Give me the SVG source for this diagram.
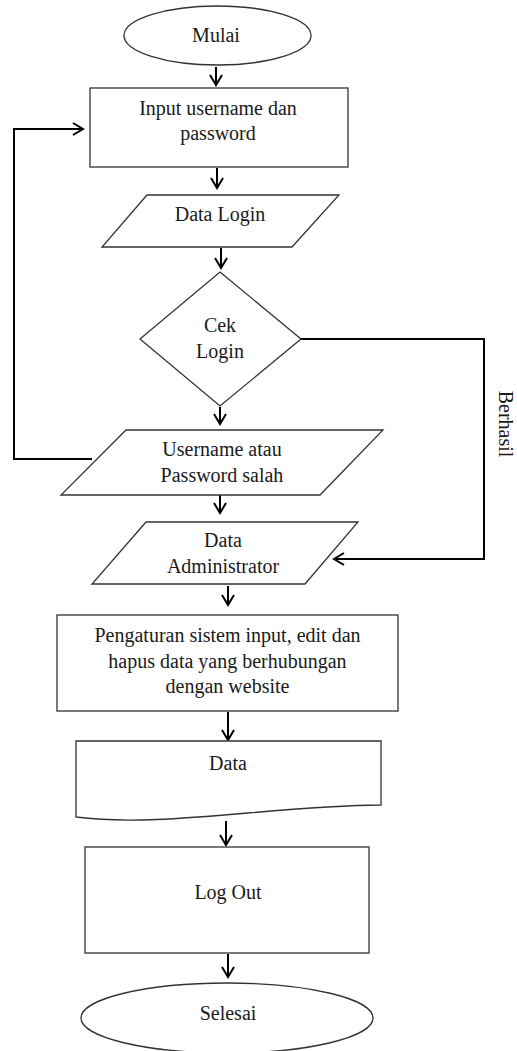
<svg xmlns="http://www.w3.org/2000/svg" width="517" height="1051" viewBox="0 0 517 1051">
<style>
.n{fill:#fff;stroke:#333;stroke-width:1.3}
.t{font-family:"Liberation Serif","Times New Roman",serif;font-size:20px;fill:#1a1a1a;text-anchor:middle}
.c{fill:none;stroke:#000;stroke-width:2}
</style>
<defs>
<marker id="ah" markerUnits="userSpaceOnUse" markerWidth="16" markerHeight="16" viewBox="-12 -8 14 16" refX="0" refY="0" orient="auto">
<path d="M-10,-6 L0,0 L-10,6" fill="none" stroke="#000" stroke-width="2"/>
</marker>
</defs>
<rect width="517" height="1051" fill="#fff"/>
<g id="connectors">
<path class="c" d="M216,67 V85" marker-end="url(#ah)"/>
<path class="c" d="M217,168 V188" marker-end="url(#ah)"/>
<path class="c" d="M221,248 V268" marker-end="url(#ah)"/>
<path class="c" d="M220,407 V424" marker-end="url(#ah)"/>
<path class="c" d="M220,489 V513" marker-end="url(#ah)"/>
<path class="c" d="M228,586 V605" marker-end="url(#ah)"/>
<path class="c" d="M228,712 V740" marker-end="url(#ah)"/>
<path class="c" d="M226,821 V845" marker-end="url(#ah)"/>
<path class="c" d="M228,954 V977" marker-end="url(#ah)"/>
<path class="c" d="M92,459 H14 V129 H83" marker-end="url(#ah)"/>
<path class="c" d="M301,339 H484 V559 H334" marker-end="url(#ah)"/>
</g>
<g id="mulai">
<ellipse class="n" cx="217.5" cy="35.5" rx="93.5" ry="29.5"/>
<text class="t" x="216" y="42">Mulai</text>
</g>
<g id="input">
<rect class="n" x="90" y="88" width="258" height="79"/>
<text class="t" x="218" y="115">Input username dan</text>
<text class="t" x="218" y="140">password</text>
</g>
<g id="datalogin">
<polygon class="n" points="147,195 339,195 292,247 102,247"/>
<text class="t" x="220" y="221">Data Login</text>
</g>
<g id="ceklogin">
<polygon class="n" points="220,272 301,339 220,406 140,339"/>
<text class="t" x="220" y="332">Cek</text>
<text class="t" x="220" y="358">Login</text>
</g>
<g id="salah">
<polygon class="n" points="126,430 383,430 320,495 61,495"/>
<text class="t" x="222" y="456">Username atau</text>
<text class="t" x="222" y="482">Password salah</text>
</g>
<g id="berhasil">
<text class="t" transform="translate(499,424) rotate(90)" x="0" y="0">Berhasil</text>
</g>
<g id="dataadmin">
<polygon class="n" points="146,522 358,522 305,584 92,584"/>
<text class="t" x="223" y="547">Data</text>
<text class="t" x="223" y="573">Administrator</text>
</g>
<g id="pengaturan">
<rect class="n" x="57" y="615" width="341" height="96"/>
<text class="t" x="227.5" y="642">Pengaturan sistem input, edit dan</text>
<text class="t" x="227.5" y="668">hapus data yang berhubungan</text>
<text class="t" x="227.5" y="693">dengan website</text>
</g>
<g id="data">
<path class="n" d="M76,741 H381 V805 C270,806 160,828 76,817 Z"/>
<text class="t" x="228" y="770">Data</text>
</g>
<g id="logout">
<rect class="n" x="85" y="847" width="284" height="106"/>
<text class="t" x="228" y="899">Log Out</text>
</g>
<g id="selesai">
<ellipse class="n" cx="227" cy="1018" rx="146" ry="35"/>
<text class="t" x="228" y="1020">Selesai</text>
</g>
</svg>
